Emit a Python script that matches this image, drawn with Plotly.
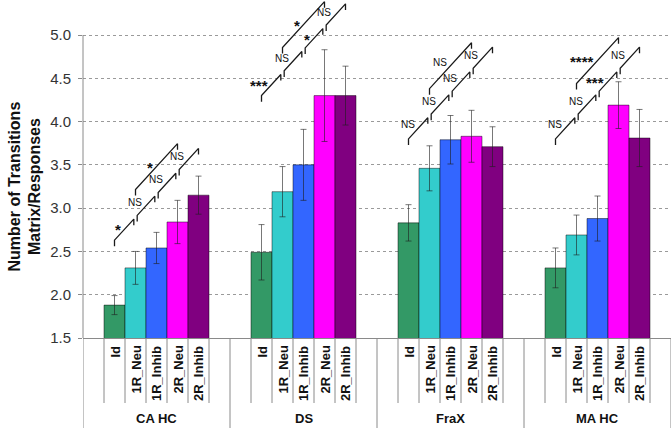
import plotly.graph_objects as go

# ---------------- data ----------------
groups = ["CA HC", "DS", "FraX", "MA HC"]
conditions = ["Id", "1R_Neu", "1R_Inhib", "2R_Neu", "2R_Inhib"]
colors = ["#339966", "#33CCCC", "#3366FF", "#FF00FF", "#800080"]

means_id = [1.88, 2.49, 2.83, 2.31]
means_1r_neu = [2.31, 3.19, 3.46, 2.69]
means_1r_inhib = [2.54, 3.50, 3.79, 2.88]
means_2r_neu = [2.84, 4.30, 3.83, 4.19]
means_2r_inhib = [3.15, 4.30, 3.71, 3.81]

err_id = [0.11, 0.32, 0.21, 0.23]
err_1r_neu = [0.19, 0.29, 0.26, 0.23]
err_1r_inhib = [0.18, 0.41, 0.28, 0.26]
err_2r_neu = [0.25, 0.53, 0.30, 0.27]
err_2r_inhib = [0.22, 0.34, 0.23, 0.33]

means = [means_id, means_1r_neu, means_1r_inhib, means_2r_neu, means_2r_inhib]
errors = [err_id, err_1r_neu, err_1r_inhib, err_2r_neu, err_2r_inhib]

y_ticks = [1.5, 2.0, 2.5, 3.0, 3.5, 4.0, 4.5, 5.0]

# significance annotations (adjacent-pair chain + one wider comparison per group)
chain_labels = [["*", "NS", "NS", "NS"],
                ["***", "NS", "*", "NS"],
                ["NS", "NS", "NS", "NS"],
                ["NS", "NS", "***", "NS"]]
upper_labels = ["*", "*", "NS", "****"]
chain_start = [2.63, 4.30, 3.80, 3.80]
chain_rise = 0.265
upper_offset = [0.32, 0.29, 0.315, 0.375]

# ---------------- layout constants ----------------
W, H = 671, 428
ML, MR, MT, MB = 83, 0, 0, 90
plot_h = H - MT - MB
group_w = len(conditions) + 2          # 7 units per group
px_per_unit_y = 303 / 3.5
y_top = 1.5 + plot_h / px_per_unit_y
FONT = "Liberation Sans, Arial, sans-serif"


def bar_x(g, b):
    return g * group_w + 1.5 + b


fig = go.Figure()

for b, cond in enumerate(conditions):
    fig.add_trace(go.Bar(
        x=[bar_x(g, b) for g in range(len(groups))],
        y=means[b],
        width=1,
        name=cond,
        marker=dict(color=colors[b], line=dict(color="rgba(0,0,0,0.45)", width=1)),
        error_y=dict(type="data", array=errors[b], color="rgba(30,30,30,0.6)",
                     thickness=1, width=3),
        showlegend=False,
        hoverinfo="skip",
    ))

# bracket lines
tick = 0.07
gap = 0.08
bx, by = [], []
annotations = []


def add_seg(xa, ya, xb, yb):
    bx.extend([xa, xa, xb, xb, None])
    by.extend([ya - tick, ya, yb, yb - tick, None])


def add_label(x, y, text):
    star = "*" in text
    annotations.append(dict(
        x=x, y=y, xref="x", yref="y",
        text=("<b>%s</b>" % text) if star else text, showarrow=False,
        xanchor="right", yanchor="middle", xshift=-2,
        yshift=-1 if star else 3,
        font=dict(family=FONT, size=15 if star else 10, color="#111"),
    ))


for g in range(len(groups)):
    for k in range(4):
        xa, xb = bar_x(g, k), bar_x(g, k + 1)
        ya = chain_start[g] + chain_rise * k
        yb = ya + chain_rise
        add_seg(xa + (gap if k > 0 else 0), ya + (chain_rise * gap if k > 0 else 0),
                xb - (gap if k < 3 else 0), yb - (chain_rise * gap if k < 3 else 0))
        add_label((xa + xb) / 2, (ya + yb) / 2, chain_labels[g][k])
    ua = chain_start[g] + upper_offset[g] + chain_rise * 1
    ub = chain_start[g] + upper_offset[g] + chain_rise * 3
    add_seg(bar_x(g, 1), ua, bar_x(g, 3), ub)
    add_label(bar_x(g, 2), (ua + ub) / 2, upper_labels[g])

fig.add_trace(go.Scatter(x=bx, y=by, mode="lines",
                         line=dict(color="#1a1a1a", width=1.3),
                         showlegend=False, hoverinfo="skip"))

# category labels below the axis
for g, grp in enumerate(groups):
    for b, cond in enumerate(conditions):
        annotations.append(dict(
            x=bar_x(g, b), y=0, xref="x", yref="paper", text="<b>%s</b>" % cond,
            showarrow=False, textangle=-90, xanchor="center", yanchor="top",
            yshift=-6, font=dict(family=FONT, size=13, color="#111")))
    annotations.append(dict(
        x=g * group_w + group_w / 2, y=0, xref="x", yref="paper",
        text="<b>%s</b>" % grp, showarrow=False, xanchor="center",
        yanchor="middle", yshift=-80, font=dict(family=FONT, size=13, color="#111")))

# y axis title
annotations.append(dict(
    x=0, y=(1.5 + 5.0) / 2, xref="paper", yref="y",
    text="<b>Number of Transitions<br>Matrix/Responses</b>", showarrow=False,
    textangle=-90, xanchor="center", yanchor="middle", xshift=-59,
    font=dict(family=FONT, size=16, color="#111")))

# divider lines
shapes = []
short_bottom = -(403 - 338) / plot_h
full_bottom = -MB / plot_h
line_col = "#8a8a8a"
for g in range(len(groups)):
    for k in range(len(conditions) + 1):
        xx = g * group_w + 1 + k
        shapes.append(dict(type="line", xref="x", yref="paper", x0=xx, x1=xx,
                           y0=0, y1=short_bottom, line=dict(color=line_col, width=1)))
for g in range(len(groups) + 1):
    xx = g * group_w
    shapes.append(dict(type="line", xref="x", yref="paper", x0=xx, x1=xx,
                       y0=0, y1=full_bottom, line=dict(color=line_col, width=1)))
# y axis line (only up to 5.0)
shapes.append(dict(type="line", xref="paper", yref="y", x0=0, x1=0, y0=1.5, y1=5.0,
                   line=dict(color=line_col, width=1)))

fig.update_layout(
    width=W, height=H,
    margin=dict(l=ML, r=MR, t=MT, b=MB, pad=0),
    paper_bgcolor="white", plot_bgcolor="white",
    barmode="overlay",
    font=dict(family=FONT),
    xaxis=dict(range=[0, len(groups) * group_w], showticklabels=False, ticks="",
               showgrid=False, zeroline=False, showline=True, linecolor=line_col,
               linewidth=1),
    yaxis=dict(range=[1.5, y_top], tickvals=y_ticks,
               ticktext=["%.1f" % v for v in y_ticks],
               ticks="outside", ticklen=4, tickcolor=line_col,
               tickfont=dict(family=FONT, size=15, color="#333"),
               ticklabelstandoff=4,
               showgrid=True, gridcolor="#9a9a9a", griddash="dot", gridwidth=1,
               zeroline=False, showline=False),
    shapes=shapes,
    annotations=annotations,
)

fig.write_html("out.html", config={"displayModeBar": False},
               post_script="document.body.style.margin='0';document.body.style.overflow='hidden';")
